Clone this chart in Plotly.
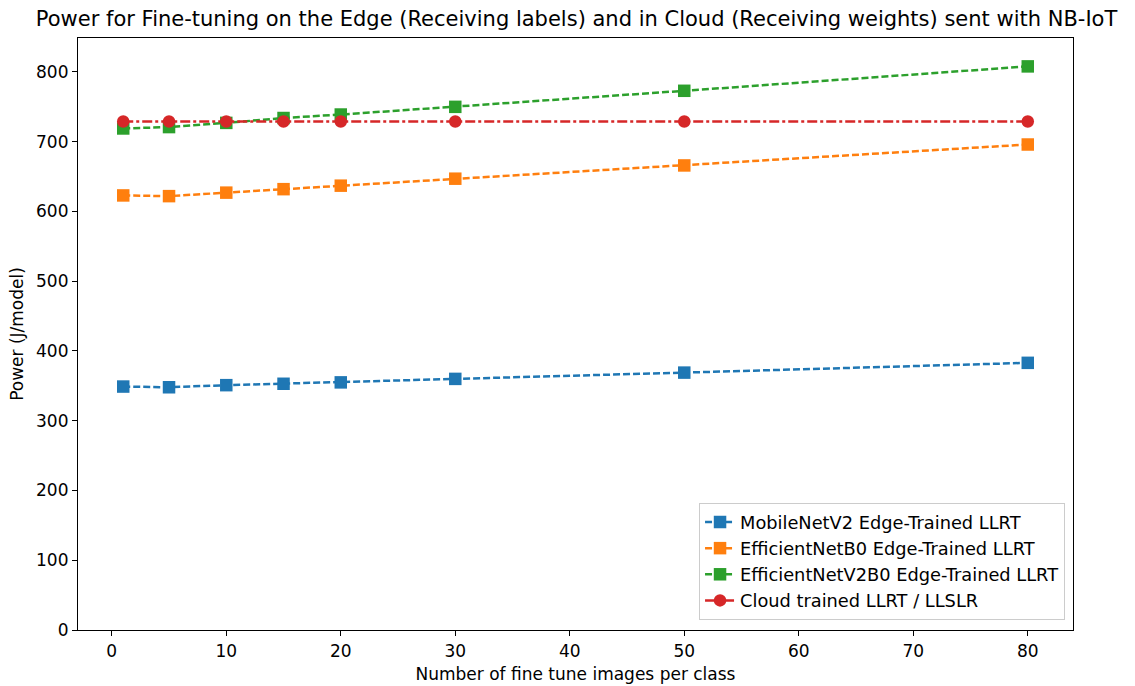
import plotly.graph_objects as go

# Number of fine-tune images per class
images_per_class = [1, 5, 10, 15, 20, 30, 50, 80]

# Power (J/model) for each approach
mobilenetv2_edge = [349, 348, 351, 353, 355, 360, 369, 383]
efficientnetb0_edge = [623, 622, 627, 632, 637, 647, 666, 696]
efficientnetv2b0_edge = [719, 721, 727, 734, 739, 750, 773, 808]
cloud_trained = [729, 729, 729, 729, 729, 729, 729, 729]

series_names = [
    "MobileNetV2 Edge-Trained LLRT",
    "EfficientNetB0 Edge-Trained LLRT",
    "EfficientNetV2B0 Edge-Trained LLRT",
    "Cloud trained LLRT / LLSLR",
]

x_ticks = [0, 10, 20, 30, 40, 50, 60, 70, 80]
y_ticks = [0, 100, 200, 300, 400, 500, 600, 700, 800]

colors = ["#1f77b4", "#ff7f0e", "#2ca02c", "#d62728"]
dash_style = "7px,3px"
dashdot_style = "10px,3px,3px,3px"

fig = go.Figure()
for name, values, color, symbol, dash in [
    (series_names[0], mobilenetv2_edge, colors[0], "square", dash_style),
    (series_names[1], efficientnetb0_edge, colors[1], "square", dash_style),
    (series_names[2], efficientnetv2b0_edge, colors[2], "square", dash_style),
    (series_names[3], cloud_trained, colors[3], "circle", dashdot_style),
]:
    fig.add_trace(go.Scatter(
        x=images_per_class, y=values, name=name, mode="lines+markers",
        line=dict(color=color, width=2.5, dash=dash),
        marker=dict(color=color, symbol=symbol, size=12.5, line=dict(width=0)),
    ))

axis_common = dict(
    showgrid=False, zeroline=False, showline=True, mirror=True,
    linecolor="black", linewidth=1.2, ticks="outside", ticklen=5,
    tickwidth=1.2, tickcolor="black", automargin=False,
    tickfont=dict(family="DejaVu Sans", size=17, color="black"),
)

fig.update_layout(
    width=1135, height=686,
    margin=dict(l=78, r=62, t=38, b=56),
    plot_bgcolor="white", paper_bgcolor="white",
    font=dict(family="DejaVu Sans", color="black"),
    title=dict(
        text="Power for Fine-tuning on the Edge (Receiving labels) and in Cloud (Receiving weights) sent with NB-IoT",
        x=0.508, xanchor="center", y=0.973, yanchor="middle",
        font=dict(family="DejaVu Sans", size=21, color="black"),
    ),
    xaxis=dict(
        range=[-2.95, 83.95], tickvals=x_ticks,
        title=dict(text="Number of fine tune images per class",
                   font=dict(family="DejaVu Sans", size=17), standoff=8),
        **axis_common,
    ),
    yaxis=dict(
        range=[0, 848.7], tickvals=y_ticks,
        title=dict(text="Power (J/model)",
                   font=dict(family="DejaVu Sans", size=17), standoff=8),
        **axis_common,
    ),
    legend=dict(
        x=0.992, y=0.017, xanchor="right", yanchor="bottom",
        bgcolor="rgba(255,255,255,0.8)", bordercolor="#cccccc", borderwidth=1,
        font=dict(family="DejaVu Sans", size=17.8, color="black"),
        itemwidth=30, tracegroupgap=0,
    ),
    showlegend=True,
)

fig.write_html("out.html")
